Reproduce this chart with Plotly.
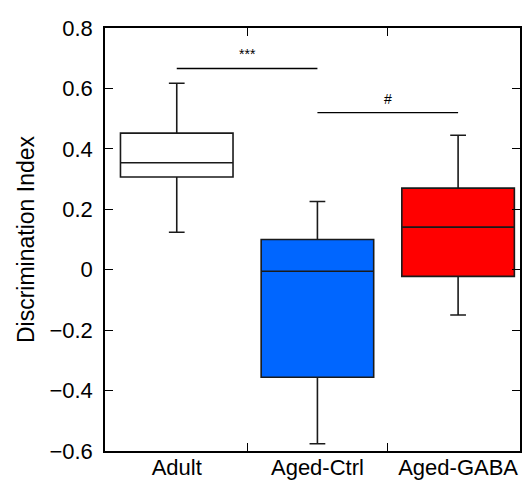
import plotly.graph_objects as go

categories = ["Adult", "Aged-Ctrl", "Aged-GABA"]
q1 = [0.307, -0.356, -0.022]
median = [0.354, -0.005, 0.141]
q3 = [0.452, 0.100, 0.270]
lowerfence = [0.124, -0.576, -0.150]
upperfence = [0.617, 0.226, 0.445]
fill_colors = ["#FFFFFF", "#0066FF", "#FF0000"]

# significance brackets: (from category index, to category index, y level, label)
sig_from = [0, 1]
sig_to = [1, 2]
sig_y = [0.666, 0.52]
sig_label = ["***", "#"]

FONT = "Liberation Sans, Arial, Helvetica, sans-serif"
XRANGE = [-0.51, 2.44]

fig = go.Figure()
for i, cat in enumerate(categories):
    fig.add_trace(go.Box(
        x=[i], q1=[q1[i]], median=[median[i]], q3=[q3[i]],
        lowerfence=[lowerfence[i]], upperfence=[upperfence[i]],
        name=cat, width=0.8, whiskerwidth=0.14,
        fillcolor=fill_colors[i],
        line=dict(color="#1a1a1a", width=1.6),
        boxpoints=False, hoverinfo="skip", showlegend=False,
    ))

# invisible trace on the label axis so it is drawn
fig.add_trace(go.Scatter(x=[0, 1, 2], y=[None, None, None], xaxis="x2", yaxis="y",
                         mode="markers", showlegend=False, hoverinfo="skip"))

for a, b, y, lab in zip(sig_from, sig_to, sig_y, sig_label):
    fig.add_shape(type="line", xref="x", yref="y", x0=a, x1=b, y0=y, y1=y,
                  line=dict(color="black", width=1.3))
    fig.add_annotation(x=(a + b) / 2, y=y, xref="x", yref="y", text=lab,
                       showarrow=False, yshift=14,
                       font=dict(family=FONT, size=14, color="black"))

fig.update_layout(
    width=527, height=483,
    margin=dict(l=105, r=7, t=28, b=32),
    plot_bgcolor="white", paper_bgcolor="white",
    font=dict(family=FONT, color="black"),
    xaxis=dict(
        range=XRANGE, tickmode="array", tickvals=[0.5, 1.5], ticktext=["", ""],
        ticks="inside", ticklen=8, tickwidth=1.2, tickcolor="black",
        showgrid=False, zeroline=False, automargin=False,
        showline=True, linecolor="black", linewidth=1.5, mirror="ticks",
    ),
    xaxis2=dict(
        range=XRANGE, overlaying="x", anchor="y", side="bottom",
        tickmode="array", tickvals=[0, 1, 2], ticktext=categories,
        ticks="", showgrid=False, zeroline=False, showline=False, automargin=False,
        tickfont=dict(family=FONT, size=22, color="black"),
        ticklabelstandoff=1,
    ),
    yaxis=dict(
        range=[-0.6, 0.8], tickmode="array",
        tickvals=[-0.6, -0.4, -0.2, 0, 0.2, 0.4, 0.6, 0.8],
        ticks="inside", ticklen=8, tickwidth=1.2, tickcolor="black",
        showgrid=False, zeroline=False, automargin=False,
        showline=True, linecolor="black", linewidth=1.5, mirror="ticks",
        tickfont=dict(family=FONT, size=22, color="black"),
        ticklabelstandoff=6,
        title=dict(text="Discrimination Index", font=dict(family=FONT, size=23, color="black"),
                   standoff=8),
    ),
)

fig.write_html("out.html")
